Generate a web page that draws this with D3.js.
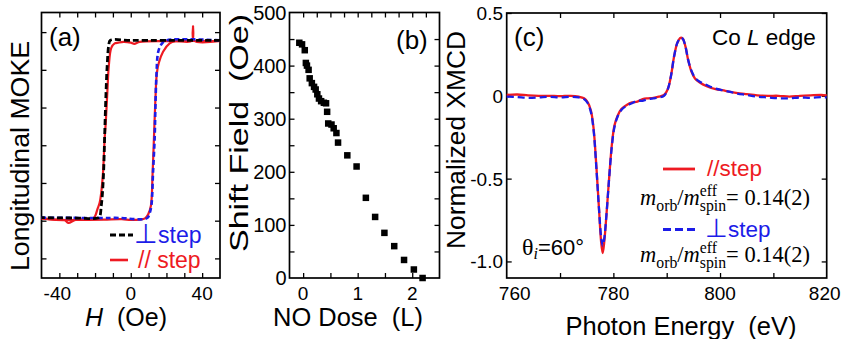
<!DOCTYPE html>
<html><head><meta charset="utf-8">
<script src="https://cdn.jsdelivr.net/npm/d3@7"></script>
<style>
body{margin:0;background:#fff}
svg{display:block}
</style>
</head><body>
<svg id="chart" width="842" height="339" font-family="'Liberation Sans',Arial,Helvetica,sans-serif"></svg>
<script>
// ---------------- DATA ----------------
// Panel (a): longitudinal MOKE hysteresis loops  [H (Oe), signal (arb.)]
const perpStepDown = [[50,1.39],[20,1.39],[0,1.39],[-11.5,1.39],[-12.3,1.33],[-13.2,1.06],[-14.0,0.60],[-14.6,0.14],[-15.2,-0.35],[-15.9,-0.65],[-16.6,-0.82],[-17.3,-0.94],[-18.5,-0.965],[-30,-0.965],[-50,-0.96]];
const perpStepUp = [[-50,-0.96],[-18,-0.965],[-5,-0.965],[2,-0.98],[7,-0.98],[9.5,-0.96],[10.6,-0.9],[11.6,-0.79],[12.5,-0.35],[13.4,0.1],[13.8,0.49],[14.4,0.93],[15.4,1.24],[17.2,1.34],[20,1.39],[50,1.39]];
const parStepDown = [[50,1.38],[38,1.385],[20,1.38],[5,1.37],[2,1.345],[0,1.36],[-4,1.37],[-7,1.36],[-9,1.35],[-10.9,1.29],[-12.3,1.05],[-13.1,0.71],[-14.0,0.3],[-14.6,0.1],[-15.5,-0.35],[-16.5,-0.62],[-17.4,-0.76],[-18.7,-0.85],[-19.8,-0.93],[-21,-0.97],[-25,-0.98],[-31,-0.99],[-35,-1.03],[-37,-0.99],[-42,-0.985],[-50,-0.97]];
const parStepUp = [[-50,-0.97],[-42,-0.99],[-30,-0.99],[-15,-0.985],[-5,-0.98],[0,-0.99],[5,-0.985],[8,-0.97],[9.7,-0.92],[11.3,-0.8],[12.2,-0.4],[13.0,0.1],[13.8,0.6],[14.6,0.95],[15.7,1.09],[18.1,1.24],[21.8,1.35],[25,1.38],[34.3,1.385],[34.9,1.575],[35.5,1.385],[50,1.385]];
const aXTicks = [-40,-30,-20,-10,0,10,20,30,40];
const aXLabels = [-40,0,40];
const aYTicks = [-1.5,-1,-0.5,0,0.5,1,1.5];

// Panel (b): shift field vs NO dose
const noDose = [-0.07,-0.02,0.03,0.05,0.07,0.10,0.12,0.16,0.20,0.23,0.26,0.29,0.33,0.38,0.42,0.44,0.46,0.52,0.56,0.61,0.64,0.81,0.98,1.15,1.32,1.49,1.67,1.85,2.03,2.19];
const shiftField = [443,440,429,405,400,392,376,367,360,355,346,338,333,330,329,313,291,289,282,273,255,231,210,151,115,85,60,34,16,0];
const bXTicks = [0,0.5,1,1.5,2];
const bXTopTicks = [0,0.25,0.5,0.75,1,1.25,1.5,1.75,2,2.25];
const bXLabels = [0,1,2];
const bYTicks = [50,100,150,200,250,300,350,400,450];
const bYLabels = [0,100,200,300,400,500];

// Panel (c): normalized XMCD at the Co L edge  [photon energy (eV), XMCD]
const xmcdParStep = [[760,0.005],[762,0.008],[764,0.003],[766,0.0],[768,0.0],[770,-0.002],[772,0.0],[773.5,-0.005],[774.5,-0.015],[775.2,-0.04],[775.8,-0.09],[776.3,-0.2],[776.8,-0.42],[777.3,-0.68],[777.7,-0.88],[778.0,-0.95],[778.3,-0.88],[778.7,-0.72],[779.2,-0.5],[779.7,-0.3],[780.2,-0.18],[780.8,-0.12],[781.5,-0.08],[782.5,-0.055],[783.5,-0.04],[784.5,-0.035],[785.5,-0.02],[786.5,-0.015],[787.5,-0.012],[788.5,-0.005],[789.5,0.005],[790.2,0.04],[790.8,0.12],[791.4,0.24],[792.0,0.32],[792.6,0.35],[793.0,0.345],[793.5,0.30],[794.0,0.22],[794.6,0.15],[795.3,0.105],[796.2,0.08],[797.5,0.058],[799,0.042],[801,0.03],[803,0.018],[805,0.01],[807,0.003],[809,0.0],[811,0.0],[813,-0.005],[815,0.0],[817,0.003],[819,0.005],[820,0.002]];
const xmcdPerpStep = [[760,-0.005],[762,-0.008],[764,-0.012],[766,-0.01],[768,-0.006],[770,-0.01],[772,-0.006],[773.5,-0.01],[774.5,-0.02],[775.2,-0.045],[775.8,-0.1],[776.3,-0.21],[776.8,-0.43],[777.3,-0.68],[777.7,-0.85],[778.0,-0.905],[778.3,-0.86],[778.7,-0.72],[779.2,-0.5],[779.7,-0.31],[780.2,-0.19],[780.8,-0.125],[781.5,-0.085],[782.5,-0.06],[783.5,-0.045],[784.5,-0.03],[785.5,-0.03],[786.5,-0.02],[787.5,-0.015],[788.5,-0.01],[789.5,0.0],[790.2,0.04],[790.8,0.12],[791.4,0.24],[792.0,0.32],[792.6,0.35],[793.0,0.345],[793.5,0.30],[794.0,0.22],[794.6,0.155],[795.3,0.11],[796.2,0.085],[797.5,0.065],[799,0.045],[801,0.03],[803,0.015],[805,0.005],[807,-0.005],[809,-0.01],[811,-0.015],[813,-0.015],[815,-0.01],[817,-0.012],[819,-0.008],[820,-0.01]];
const cXTicks = [770,780,790,800,810];
const cXLabels = [760,780,800,820];
const cYTicks = [-1,-0.5,0,0.5];
const cYLabels = [["0.5",0.5],["0",0],["-0.5",-0.5],["-1.0",-1]];

// ---------------- DRAW ----------------
const RED = "#ee1a22", BLUE = "#1c1ce8", BLACK = "#000";
const svg = d3.select("#chart");
const TL = 5;          // tick length
const TICKFS = 19;     // tick label font size
const SERIF = "'Liberation Serif','Times New Roman',serif";

function txt(g, x, y, s, o = {}) {
  const t = g.append("text").attr("x", x).attr("y", y)
    .attr("font-size", o.size || TICKFS).attr("fill", o.fill || BLACK)
    .attr("text-anchor", o.anchor || "start");
  if (o.family) t.attr("font-family", o.family);
  if (o.italic) t.attr("font-style", "italic");
  if (o.html) t.html(s); else t.text(s);
  if (o.rotate) t.attr("transform", `rotate(${o.rotate},${x},${y})`);
  if (o.len) t.attr("textLength", o.len).attr("lengthAdjust", "spacingAndGlyphs");
  return t;
}

function frameAxes(x, y, o) {
  const g = svg.append("g");
  const [xl, xr] = x.range(), [yb, yt] = y.range();
  const clean = s => { s.select(".domain").remove(); s.selectAll("line").attr("stroke", BLACK).attr("stroke-width", 1.3); };
  g.append("g").attr("transform", `translate(0,${yb})`)
    .call(d3.axisBottom(x).tickValues(o.xb).tickSize(-TL).tickFormat("")).call(clean);
  g.append("g").attr("transform", `translate(0,${yt})`)
    .call(d3.axisTop(x).tickValues(o.xt).tickSize(-TL).tickFormat("")).call(clean);
  g.append("g").attr("transform", `translate(${xl},0)`)
    .call(d3.axisLeft(y).tickValues(o.yl).tickSize(-TL).tickFormat("")).call(clean);
  g.append("g").attr("transform", `translate(${xr},0)`)
    .call(d3.axisRight(y).tickValues(o.yl).tickSize(-TL).tickFormat("")).call(clean);
  g.append("rect").attr("x", xl).attr("y", yt).attr("width", xr - xl).attr("height", yb - yt)
    .attr("fill", "none").attr("stroke", BLACK).attr("stroke-width", 1.7);
  return g;
}

const line = (x, y) => d3.line().x(d => x(d[0])).y(d => y(d[1])).curve(d3.curveCatmullRom.alpha(0.5));

// ---- Panel (a)
const xA = d3.scaleLinear().domain([-50, 50]).range([41.5, 220]);
const yA = d3.scaleLinear().domain([-1.76, 1.76]).range([278, 12.5]);
frameAxes(xA, yA, {xb: aXTicks, xt: aXTicks, yl: aYTicks});
const gA = svg.append("g");
gA.append("path").attr("d", line(xA, yA)(parStepUp)).attr("fill", "none").attr("stroke", RED).attr("stroke-width", 2.2);
gA.append("path").attr("d", line(xA, yA)(parStepDown)).attr("fill", "none").attr("stroke", RED).attr("stroke-width", 2.2);
gA.append("path").attr("d", line(xA, yA)(perpStepUp)).attr("fill", "none").attr("stroke", BLUE).attr("stroke-width", 2.6).attr("stroke-dasharray", "5,3");
gA.append("path").attr("d", line(xA, yA)(perpStepDown)).attr("fill", "none").attr("stroke", BLACK).attr("stroke-width", 2.8).attr("stroke-dasharray", "6,3");
aXLabels.forEach(v => txt(svg, xA(v) - (v < 0 ? 2 : 0), 300, v < 0 ? "-" + Math.abs(v) : String(v), {anchor: "middle"}));
txt(svg, 49, 46, "(a)", {size: 26});
// legend (a)
gA.append("line").attr("x1", 110).attr("x2", 133).attr("y1", 235).attr("y2", 235).attr("stroke", BLACK).attr("stroke-width", 2.8).attr("stroke-dasharray", "6,3");
txt(svg, 134, 243, '<tspan font-size="27">⊥</tspan>step', {size: 23, fill: BLUE, html: true});
gA.append("line").attr("x1", 110).attr("x2", 128).attr("y1", 260).attr("y2", 260).attr("stroke", RED).attr("stroke-width", 2.6);
txt(svg, 138, 268, "// step", {size: 23, fill: RED});
// axis titles (a)
txt(svg, 126, 326, '<tspan font-style="italic">H</tspan>  (Oe)', {size: 25, anchor: "middle", html: true}).attr("xml:space", "preserve");
txt(svg, 29, 156, "Longitudinal MOKE", {size: 26, anchor: "middle", rotate: -90, len: 230});

// ---- Panel (b)
const xB = d3.scaleLinear().domain([-0.25, 2.5]).range([289.5, 439.5]);
const yB = d3.scaleLinear().domain([0, 500]).range([278, 12.5]);
frameAxes(xB, yB, {xb: bXTicks, xt: bXTopTicks, yl: bYTicks});
const pts = noDose.map((d, i) => [d, shiftField[i]]);
const SQ = 6.5;
svg.append("g").selectAll("rect").data(pts).join("rect")
  .attr("x", d => xB(d[0]) - SQ / 2).attr("y", d => yB(d[1]) - SQ / 2)
  .attr("width", SQ).attr("height", SQ).attr("fill", BLACK);
bXLabels.forEach(v => txt(svg, xB(v), 300, String(v), {anchor: "middle"}));
bYLabels.forEach(v => txt(svg, 286.5, yB(v) + 7, String(v), {anchor: "end", size: 20}));
txt(svg, 396, 49, "(b)", {size: 26});
txt(svg, 348, 326, "NO Dose  (L)", {size: 25, anchor: "middle", len: 150}).attr("xml:space", "preserve");
txt(svg, 248, 133, "Shift Field  (Oe)", {size: 26, anchor: "middle", rotate: -90, len: 238}).attr("xml:space", "preserve");

// ---- Panel (c)
const xC = d3.scaleLinear().domain([760, 820]).range([506.7, 826.7]);
const yC = d3.scaleLinear().domain([-1.1, 0.5]).range([278, 13]);
frameAxes(xC, yC, {xb: cXTicks, xt: cXTicks, yl: cYTicks});
const gC = svg.append("g");
gC.append("path").attr("d", line(xC, yC)(xmcdParStep)).attr("fill", "none").attr("stroke", RED).attr("stroke-width", 2.3);
gC.append("path").attr("d", line(xC, yC)(xmcdPerpStep)).attr("fill", "none").attr("stroke", BLUE).attr("stroke-width", 2.3).attr("stroke-dasharray", "7,4");
cXLabels.forEach(v => {
  const dx = v === 760 ? 8 : (v === 820 ? -2 : 0);
  txt(svg, xC(v) + dx, 300, String(v), {anchor: "middle"});
});
cYLabels.forEach(([s, v]) => txt(svg, 503, yC(v) + 7, s, {anchor: "end"}));
txt(svg, 514, 46, "(c)", {size: 26});
txt(svg, 712, 45, 'Co <tspan font-style="italic">L</tspan> edge', {size: 22.5, html: true});
txt(svg, 681, 335, "Photon Energy  (eV)", {size: 25, anchor: "middle", len: 231}).attr("xml:space", "preserve");
txt(svg, 465, 140, "Normalized XMCD", {size: 26, anchor: "middle", rotate: -90, len: 218});

// legend (c)
gC.append("line").attr("x1", 663).attr("x2", 695).attr("y1", 169).attr("y2", 169).attr("stroke", RED).attr("stroke-width", 2.8);
txt(svg, 707, 176, "//step", {size: 22.5, fill: RED});
gC.append("line").attr("x1", 663).attr("x2", 695).attr("y1", 229.5).attr("y2", 229.5).attr("stroke", BLUE).attr("stroke-width", 2.8).attr("stroke-dasharray", "8,4");
txt(svg, 705, 237, '<tspan font-size="26">⊥</tspan>step', {size: 22.5, fill: BLUE, html: true});

// m_orb / m_spin^eff = 0.14(2), one text element with positioned tspans
function formula(xRight, y, fs) {
  const sub = fs * 0.7;
  const parts = [
    {s: "m", size: fs, it: true, dy: 0},
    {s: "orb", size: sub, dy: fs * 0.27},
    {s: "/", size: fs, dy: 0},
    {s: "m", size: fs, it: true, dy: 0},
    {s: "spin", size: sub, dy: fs * 0.27, stack: true},
    {s: "eff", size: sub, dy: -fs * 0.4, stackTop: true},
    {s: "= 0.14(2)", size: fs, dy: 0}
  ];
  const tmp = svg.append("text").attr("font-family", SERIF);
  parts.forEach(p => {
    tmp.text(p.s).attr("font-size", p.size).attr("font-style", p.it ? "italic" : "normal");
    p.w = tmp.node().getComputedTextLength();
  });
  tmp.remove();
  let x = 0;
  parts.forEach((p, i) => {
    p.x = x;
    if (p.stack) { /* advance after the stacked pair */ }
    else if (p.stackTop) { p.x = parts[i - 1].x; x = p.x + Math.max(p.w, parts[i - 1].w); }
    else x += p.w;
  });
  const total = x;
  const t = svg.append("text").attr("font-family", SERIF).attr("fill", BLACK);
  parts.forEach(p => {
    const ts = t.append("tspan").attr("x", xRight - total + p.x).attr("y", y + p.dy)
      .attr("font-size", p.size).text(p.s);
    if (p.it) ts.attr("font-style", "italic");
  });
}
formula(810, 205, 22.5);
formula(810, 261.5, 22.5);

// theta_i = 60°
const th = svg.append("text").attr("x", 522).attr("y", 255).attr("font-size", 22).attr("fill", BLACK);
th.append("tspan").attr("font-family", SERIF).attr("font-size", 24).text("θ");
th.append("tspan").attr("font-family", SERIF).attr("font-style", "italic").attr("font-size", 16).attr("dy", 4).text("i");
th.append("tspan").attr("dy", -4).text("=60°");
</script>
</body></html>
